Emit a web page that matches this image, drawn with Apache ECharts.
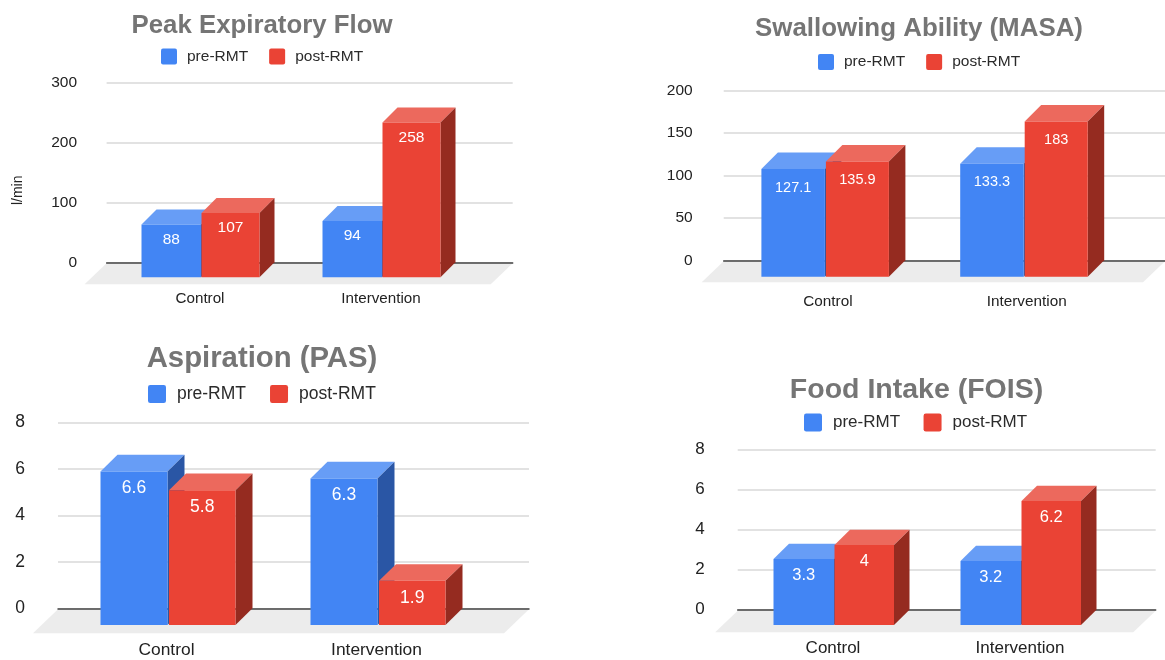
<!DOCTYPE html>
<html><head><meta charset="utf-8">
<style>html,body{margin:0;padding:0;background:#fff}#c{width:1165px;height:660px}</style>
<script src="https://cdn.jsdelivr.net/npm/echarts@6/dist/echarts.min.js"></script>
</head><body><div id="c"></div>
<script>
const categories = ['Control', 'Intervention'];
const seriesNames = ['pre-RMT', 'post-RMT'];
const titles = ['Peak Expiratory Flow', 'Swallowing Ability (MASA)', 'Aspiration (PAS)', 'Food Intake (FOIS)'];
const pefPre = [88, 94];
const pefPost = [107, 258];
const masaPre = [127.1, 133.3];
const masaPost = [135.9, 183];
const pasPre = [6.6, 6.3];
const pasPost = [5.8, 1.9];
const foisPre = [3.3, 3.2];
const foisPost = [4, 6.2];
const yMax = [300, 200, 8, 8];
const yStep = [100, 50, 2, 2];
const seriesValues = [[pefPre, pefPost], [masaPre, masaPost], [pasPre, pasPost], [foisPre, foisPost]];

const layout = [
 {l:106.6,r:512.7,t:82.3,b:262.3,c0:201,c1:382,w:59.5,wp:58,gapX:0.5,dx:15,dy:15,fd:22,shift:16,tx:257,ty:7.4,ts:25.8,lgx:161,lgy:48.5,lgs:15.5,sq:16,pad:5,gap:21,ax:15.2,axM:29.5,yf:15.5,yM:29.5,val:15.5,valY:15},
 {l:723.7,r:1171,t:90.7,b:260.3,c0:826.5,c1:1028,w:63.5,wp:63,gapX:1,dx:16.5,dy:16.5,fd:22,shift:13.5,tx:914,ty:10.4,ts:25.9,lgx:818,lgy:54,lgs:15.5,sq:16,pad:5,gap:21,ax:15.3,axM:34,yf:15.5,yM:31,val:14.5,valY:18.5},
 {l:58,r:529,t:422.3,b:608.3,c0:167.5,c1:377.5,w:67,wp:66.5,gapX:1.5,dx:17,dy:16.7,fd:25,shift:18,tx:257,ty:339.9,ts:29.3,lgx:148,lgy:385,lgs:17.5,sq:18,pad:6,gap:24,ax:17.4,axM:33.5,yf:17.5,yM:33,val:17.5,valY:17},
 {l:737.7,r:1155.7,t:449.7,b:609.7,c0:834,c1:1021,w:60.5,wp:59.5,gapX:0.5,dx:15.5,dy:15.3,fd:22.5,shift:16.5,tx:911.5,ty:370.3,ts:28.5,lgx:804,lgy:413.5,lgs:17,sq:18,pad:6,gap:23.5,ax:17,axM:30.5,yf:17,yM:33,val:16.5,valY:16}
];
const COLORS = [
 {front:'#4285f4', top:'#679df6', side:'#2a56a5'},
 {front:'#ea4335', top:'#ec695d', side:'#952b20'}
];
const FONT = '"Liberation Sans", Arial, sans-serif';
const SQUARE = 'path://M2 0H14Q16 0 16 2V14Q16 16 14 16H2Q0 16 0 14V2Q0 0 2 0Z';
const option = {animation:false, backgroundColor:'#fff', textStyle:{fontFamily:FONT},
  title:[], legend:[], grid:[], xAxis:[], yAxis:[], series:[]};

layout.forEach((g, k) => {
  const span = g.c1 - g.c0;
  const back0 = g.c0 + g.dx;
  option.title.push({text:titles[k], left:g.tx, top:g.ty, textAlign:'center',
    textStyle:{fontFamily:FONT, fontSize:g.ts, fontWeight:'bold', color:'#757575'}});
  option.legend.push({left:g.lgx, top:g.lgy, itemWidth:g.sq, itemHeight:g.sq, itemGap:g.gap, icon:SQUARE,
    selectedMode:false, data:seriesNames, padding:0,
    textStyle:{fontFamily:FONT, fontSize:g.lgs, color:'#2b2b2b', padding:[0,0,0,g.pad]}});
  option.grid.push({left:g.l, top:g.t, width:g.r-g.l, height:g.b-g.t, containLabel:false});
  option.xAxis.push({gridIndex:k, type:'value', z:3,
    min:(g.l-back0)/span, max:(g.r-back0)/span,
    axisLine:{show:true, onZero:false, lineStyle:{color:'#444', width:1.5}},
    axisTick:{show:false}, splitLine:{show:false},
    axisLabel:{customValues:[0,1], formatter:v=>categories[v], margin:g.axM, color:'#222',
      fontFamily:FONT, fontSize:g.ax, padding:[0,g.shift*2,0,0]}});
  option.yAxis.push(Object.assign({gridIndex:k, type:'value', min:0, max:yMax[k], interval:yStep[k],
    axisLine:{show:false}, axisTick:{show:false},
    splitLine:{lineStyle:{color:'#d9d9d9', width:1.5}},
    axisLabel:{color:'#222', fontFamily:FONT, fontSize:g.yf, margin:g.yM}},
    k===0?{name:'l/min', nameLocation:'middle', nameGap:81, nameRotate:90,
      nameTextStyle:{color:'#222', fontFamily:FONT, fontSize:14, padding:[0,36,0,0]}}:{}));
  // floor
  option.series.push({type:'custom', xAxisIndex:k, yAxisIndex:k, z:1, silent:true, data:[[0,0]],
    renderItem(params, api){
      const cs = params.coordSys;
      const y = api.coord([0,0])[1];
      return {type:'polygon', shape:{points:[[cs.x,y+1],[cs.x+cs.width,y+1],
        [cs.x+cs.width-g.fd,y+g.fd],[cs.x-g.fd,y+g.fd]]}, style:{fill:'#ececec'}};
    }});
  seriesValues[k].forEach((vals, si) => {
    const col = COLORS[si];
    const w = si===0 ? g.w : g.wp;
    option.series.push({type:'custom', name:seriesNames[si], xAxisIndex:k, yAxisIndex:k, z:4+si, silent:true,
      itemStyle:{color:col.front}, encode:{x:0,y:1},
      data:vals.map((v,i)=>[i,v]),
      renderItem(params, api){
        const i = api.value(0), v = api.value(1);
        const p = api.coord([i,v]);
        const zero = api.coord([i,0])[1];
        const x = p[0]-g.dx + (si===0 ? -w : g.gapX);
        const y = p[1]+g.dy;
        const h = zero-p[1];
        return {type:'group', children:[
          {type:'polygon', shape:{points:[[x,y],[x+g.dx,y-g.dy],[x+w+g.dx,y-g.dy],[x+w,y]]}, style:{fill:col.top}},
          {type:'polygon', shape:{points:[[x+w,y],[x+w+g.dx,y-g.dy],[x+w+g.dx,y-g.dy+h],[x+w,y+h]]}, style:{fill:col.side}},
          {type:'rect', shape:{x:x,y:y,width:w,height:h}, style:{fill:col.front}},
          {type:'text', style:{text:String(v), x:x+w/2, y:y+g.valY, fill:'#fff',
            font:g.val+'px '+FONT, textAlign:'center', textVerticalAlign:'middle'}}
        ]};
      }});
  });
});
echarts.init(document.getElementById('c'), null, {renderer:'canvas'}).setOption(option);
</script></body></html>
